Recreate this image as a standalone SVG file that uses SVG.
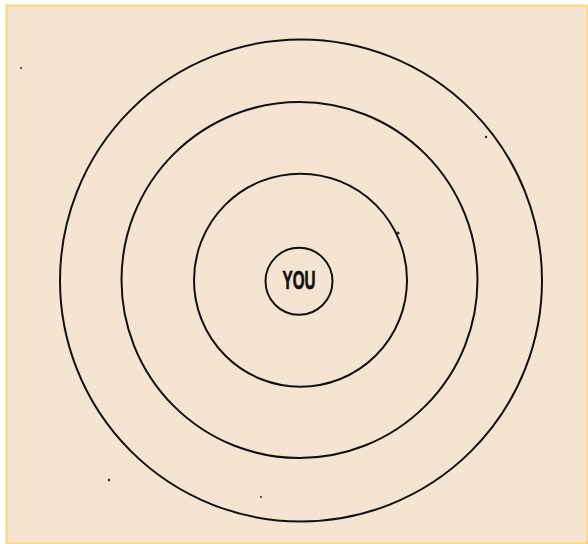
<svg xmlns="http://www.w3.org/2000/svg" width="588" height="544" viewBox="0 0 588 544">
<style>
.ring{fill:none;stroke:#111;stroke-width:2}
.speck{fill:#222}
.lbl{font-family:"Liberation Sans","DejaVu Sans",sans-serif;font-weight:bold;font-size:25px;fill:#111;stroke:#111;stroke-width:0.7}
</style>
<rect x="0" y="0" width="588" height="544" fill="#ffffff"/>
<rect x="6.5" y="5.5" width="581" height="538" fill="#F5E4D2" stroke="#FDD775" stroke-width="2"/>
<g id="ring-outer"><circle class="ring" cx="301" cy="280.5" r="241"/></g>
<g id="ring-2"><circle class="ring" cx="299.5" cy="280" r="178"/></g>
<g id="ring-3"><circle class="ring" cx="300.5" cy="280.2" r="106.5"/></g>
<g id="you">
<circle class="ring" cx="299" cy="281.3" r="33.5"/>
<text class="lbl" x="299" y="289.3" text-anchor="middle" textLength="33" lengthAdjust="spacingAndGlyphs">YOU</text>
</g>
<g id="connectors"></g>
<circle class="speck" cx="21" cy="68" r="1"/>
<circle class="speck" cx="486" cy="137" r="1.2"/>
<circle class="speck" cx="398" cy="233" r="1.6"/>
<circle class="speck" cx="109" cy="480" r="1.2"/>
<circle class="speck" cx="261" cy="497" r="0.9"/>
</svg>
